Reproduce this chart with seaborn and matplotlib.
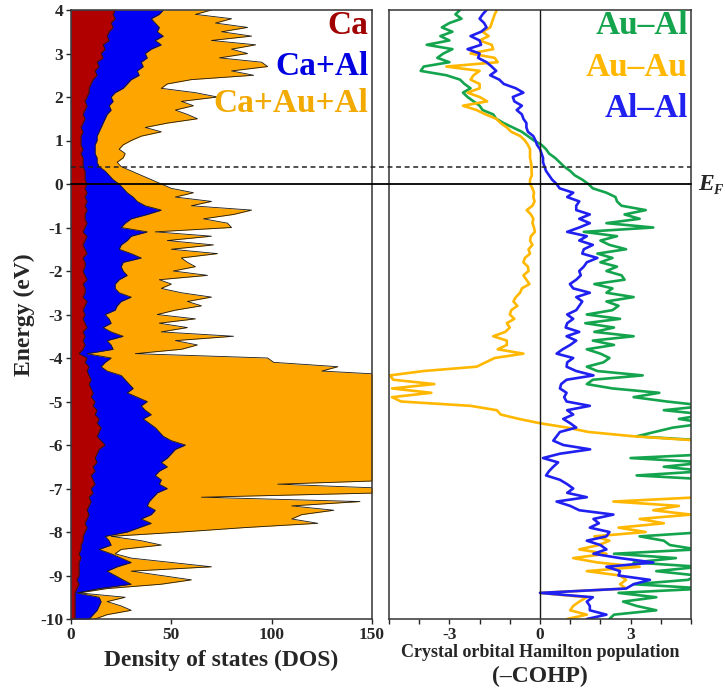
import numpy as np
import pandas as pd
import matplotlib
matplotlib.use("Agg")
import matplotlib.pyplot as plt
import matplotlib.transforms as mtransforms
from matplotlib.lines import Line2D
import seaborn as sns

# energy grid (eV), top to bottom
energy = np.round(np.arange(40, -101, -1) / 10, 1)

# projected DOS (cumulative: Ca, Ca+Al, Ca+Au+Al)
dos_ca = [22, 21, 22, 20, 21, 19, 18, 19, 16, 17,
          15, 16, 13, 14, 12, 13, 11, 10, 9, 9,
          8, 7, 8, 7, 6, 7, 6, 5, 6, 5,
          5, 5, 6, 5, 6, 6, 6, 7, 7, 7,
          8, 7, 8, 7, 8, 7, 8, 7, 7, 8,
          7, 6, 8, 7, 6, 7, 8, 6, 7, 7,
          6, 7, 8, 6, 7, 7, 6, 8, 7, 6,
          7, 6, 7, 8, 6, 7, 6, 7, 6, 4,
          8, 7, 9, 8, 9, 10, 9, 10, 11, 10,
          12, 11, 13, 12, 14, 13, 15, 14, 13, 15,
          17, 14, 13, 12, 13, 11, 12, 10, 11, 12,
          10, 11, 9, 10, 9, 8, 9, 8, 7, 8,
          7, 6, 6, 5, 5, 4, 5, 4, 4, 4,
          4, 3, 4, 3, 2, 2, 2, 2, 2, 2,
          2]
dos_ca_al = [46, 44, 40, 42, 44, 43, 46, 42, 45, 40,
             37, 38, 35, 36, 33, 34, 30, 28, 26, 22,
             20, 21, 19, 20, 18, 17, 16, 15, 14, 13,
             13, 12, 12, 12, 13, 13, 14, 17, 19, 21,
             24, 26, 28, 31, 33, 37, 45, 38, 30, 27,
             25, 38, 30, 28, 25, 24, 30, 35, 26, 25,
             26, 28, 24, 22, 22, 24, 30, 25, 23, 22,
             17, 19, 20, 16, 20, 26, 18, 20, 21, 8,
             20, 17, 15, 18, 25, 27, 29, 31, 28, 33,
             38, 35, 37, 40, 36, 39, 42, 44, 46, 50,
             57, 52, 50, 48, 45, 48, 44, 42, 45, 44,
             48, 43, 41, 39, 38, 42, 40, 35, 40, 34,
             28, 17, 19, 20, 14, 20, 25, 30, 23, 18,
             22, 26, 30, 14, 3, 14, 15, 14, 13, 11,
             9]
dos_total = [70, 62, 80, 72, 88, 75, 90, 70, 92, 80,
             88, 74, 95, 98, 80, 91, 60, 48, 45, 62,
             73, 55, 61, 52, 58, 63, 48, 37, 45, 35,
             30, 26, 24, 27, 26, 23, 25, 30, 35, 40,
             45, 50, 61, 52, 70, 60, 90, 81, 66, 78,
             80, 42, 70, 48, 71, 50, 73, 55, 58, 62,
             51, 68, 44, 50, 45, 55, 70, 58, 65, 52,
             43, 62, 44, 58, 45, 81, 52, 63, 55, 32,
             98, 101, 133, 125, 165, 172, 168, 180, 175, 185,
             190, 182, 195, 188, 200, 192, 185, 198, 190, 187,
             195, 188, 180, 176, 185, 178, 170, 175, 168, 103,
             160, 155, 65, 144, 110, 131, 115, 110, 123, 86,
             55, 20, 35, 45, 25, 22, 30, 50, 70, 30,
             45, 60, 45, 18, 4, 27, 18, 25, 30, 18,
             12]

# -COHP per bond type
cohp_au_al = [-2.65, -2.8, -2.6, -3.0, -3.25, -2.9, -3.3, -3.0, -3.75, -2.9,
              -3.2, -3.4, -3.0, -3.85, -3.95, -3.1, -2.65, -2.5, -2.3, -2.55,
              -2.4, -2.2, -2.0, -1.9, -1.55, -1.45, -1.2, -0.9, -0.6, -0.4,
              -0.2, 0.05, 0.2, 0.3, 0.5, 0.65, 0.8, 1.0, 1.15, 1.4,
              1.6, 1.75, 2.2, 2.5, 2.55, 2.7, 3.5, 2.8, 3.3, 2.2,
              3.75, 1.45, 2.55, 2.0, 2.3, 2.85, 1.9, 2.4, 2.0, 2.55,
              2.2, 2.7, 2.8, 1.8, 2.4, 2.2, 3.1, 2.2, 2.6, 2.4,
              1.55, 2.65, 1.5, 2.45, 1.8, 3.1, 1.75, 2.45, 1.55, 2.0,
              2.3, 2.1, 1.55, 1.9, 3.4, 1.75, 1.55, 2.4, 3.95, 3.1,
              4.2, 5.5, 4.1, 5.5, 4.6, 5.5, 4.4, 3.8, 3.2, 5.5,
              6.0, 5.5, 6.0, 3.0, 5.5, 4.1, 5.5, 3.2, 5.8, 6.0,
              6.2, 5.8, 6.0, 6.3, 5.9, 6.1, 6.0, 5.8, 6.2, 5.9,
              5.5, 3.3, 4.1, 4.3, 5.2, 2.45, 4.5, 3.1, 5.3, 3.85,
              5.2, 4.9, 3.1, 5.5, 2.6, 3.85, 2.75, 3.2, 3.85, 2.45,
              2.3]
cohp_au_au = [-1.43, -1.5, -1.55, -1.6, -1.65, -1.9, -1.7, -2.0, -1.6, -1.55,
              -2.3, -1.5, -1.4, -3.1, -2.0, -2.2, -2.3, -2.0, -2.0, -2.4,
              -2.0, -1.75, -2.55, -2.1, -1.8, -1.45, -1.3, -1.1, -0.95, -0.65,
              -0.5, -0.4, -0.33, -0.33, -0.33, -0.3, -0.28, -0.28, -0.27, -0.33,
              -0.33, -0.25, -0.2, -0.22, -0.18, -0.25, -0.44, -0.3, -0.22, -0.25,
              -0.2, -0.17, -0.3, -0.33, -0.25, -0.38, -0.33, -0.5, -0.55, -0.4,
              -0.38, -0.55, -0.45, -0.35, -0.6, -0.66, -0.8, -0.88, -0.75, -0.95,
              -1.0, -0.85, -1.1, -1.0, -1.15, -1.55, -1.1, -1.1, -1.4, -0.55,
              -1.5, -1.8, -2.1, -3.86, -4.97, -4.86, -3.5, -4.9, -3.6, -4.9,
              -4.6, -2.3, -1.43, -1.3, -0.7, 0.0, 0.9, 1.6, 3.1, 5.3,
              6.5, 6.8, 7.0, 6.6, 6.9, 7.2, 6.7, 6.5, 6.8, 6.4,
              6.2, 6.0, 5.3, 2.43, 4.6, 3.75, 5.0, 3.3, 4.1, 2.6,
              3.5, 1.8, 2.3, 1.95, 1.3, 2.2, 1.1, 1.9, 3.3, 1.55,
              2.65, 2.85, 2.65, 2.85, 0.0, 1.55, 1.3, 1.1, 1.0, 1.55,
              0.9]
cohp_al_al = [-1.77, -1.9, -2.0, -1.85, -1.77, -1.95, -2.3, -2.0, -1.95, -2.4,
              -2.0, -2.05, -1.77, -1.6, -1.45, -1.65, -1.35, -1.2, -0.8, -0.55,
              -0.9, -0.85, -0.6, -0.77, -0.6, -0.55, -0.45, -0.45, -0.4, -0.22,
              -0.15, -0.1, 0.0, 0.05, 0.1, 0.1, 0.15, 0.2, 0.3, 0.4,
              0.55, 0.65, 1.1, 0.9, 1.3, 1.2, 1.2, 1.65, 1.3, 1.65,
              1.3, 0.9, 1.55, 1.3, 1.75, 1.45, 1.4, 1.9, 1.55, 1.45,
              1.3, 1.35, 1.2, 0.99, 1.1, 1.65, 1.2, 1.4, 1.3, 1.2,
              0.9, 1.1, 0.9, 0.85, 1.3, 0.88, 1.2, 1.0, 0.75, 0.55,
              1.1, 0.9, 0.88, 1.2, 1.77, 0.88, 0.7, 0.66, 0.88, 0.8,
              0.88, 1.65, 0.9, 1.1, 0.77, 1.0, 1.2, 0.66, 0.55, 0.44,
              0.77, 1.66, 0.66, 0.1, 0.6, 0.44, 0.3, 0.2, 0.66, 0.9,
              1.1, 0.9, 1.55, 0.55, 1.0, 1.3, 2.43, 1.77, 1.95, 1.65,
              2.3, 2.2, 1.55, 2.0, 2.2, 1.77, 2.65, 3.75, 2.2, 2.65,
              2.6, 3.64, 3.1, 2.85, 0.0, 1.75, 1.55, 1.65, 1.65, 2.2,
              1.55]

fermi_shift = 0.4

dos_labels = ["Ca", "Ca+Al", "Ca+Au+Al"]
dos_colors = ["#b00000", "#0000f5", "#ffa500"]
dos_text_colors = ["#a00000", "#0000e0", "#f2a900"]
bond_labels = ["Au\u2013Al", "Au\u2013Au", "Al\u2013Al"]
bond_colors = ["#14a44d", "#ffb700", "#2020f0"]

sns.set_style("ticks")
plt.rcParams["font.family"] = ["Liberation Serif", "DejaVu Serif"]
plt.rcParams["font.weight"] = "bold"
plt.rcParams["axes.unicode_minus"] = False
plt.rcParams["axes.edgecolor"] = "#333333"
plt.rcParams["axes.linewidth"] = 1.1

fig = plt.figure(figsize=(7.25, 6.89), dpi=100)
ax1 = fig.add_axes([71 / 725, 70 / 689, 301 / 725, 609 / 689])
ax2 = fig.add_axes([389 / 725, 70 / 689, 302 / 725, 609 / 689])

# DOS panel: stacked fills
for vals, col in zip([dos_total, dos_ca_al, dos_ca], dos_colors[::-1]):
    ax1.fill_betweenx(energy, 0, vals, color=col, lw=0)
    sns.lineplot(x=vals, y=energy, sort=False, estimator=None, color="#1a1a1a",
                 lw=0.6, ax=ax1)

ax1.set_xlim(0, 150)
ax1.set_ylim(-10, 4)
ax1.set_xticks([0, 50, 100, 150])
ax1.set_yticks(range(-10, 5))
ax1.tick_params(direction="out", length=3.6, width=1, labelsize=12.5, pad=2)
ax1.set_xlabel("Density of states (DOS)", fontsize=17, fontweight="bold", labelpad=5)
ax1.set_ylabel("Energy (eV)", fontsize=17, fontweight="bold", labelpad=4)

for lab, col, yy in zip(dos_labels, dos_text_colors, [0.975, 0.908, 0.846]):
    ax1.text(0.988, yy, lab, transform=ax1.transAxes, ha="right", va="center",
             fontsize=24, fontweight="bold", color=col)

# COHP panel
cohp = pd.DataFrame({
    "energy": np.concatenate([energy] * 3),
    "cohp": np.concatenate([cohp_au_al, cohp_au_au, cohp_al_al]),
    "bond": np.repeat(bond_labels, len(energy)),
})
sns.lineplot(data=cohp, x="cohp", y="energy", hue="bond", hue_order=bond_labels,
             palette=bond_colors, sort=False, estimator=None, lw=1.9,
             legend=False, ax=ax2)
ax2.axvline(0, color="#1a1a1a", lw=1.0)
ax2.set_xlim(-5, 5)
ax2.set_ylim(-10, 4)
ax2.set_xticks([-3, 0, 3])
ax2.set_xticks(range(-5, 6), minor=True)
ax2.tick_params(axis="x", which="both", direction="out", length=3.6, width=1,
                labelsize=12.5, pad=2)
ax2.tick_params(axis="y", left=False, labelleft=False)
ax2.set_xlabel("Crystal orbital Hamilton population", fontsize=13,
               fontweight="bold", labelpad=1)
ax2.set_ylabel("")
ax2.text(0.5, -0.094, "(\u2013COHP)", transform=ax2.transAxes, ha="center",
         va="center", fontsize=17, fontweight="bold")

for lab, col, yy in zip(bond_labels, bond_colors, [0.975, 0.905, 0.839]):
    ax2.text(0.99, yy, lab, transform=ax2.transAxes, ha="right", va="center",
             fontsize=24, fontweight="bold", color=col)

# Fermi level and shifted level across both panels
trans = mtransforms.blended_transform_factory(fig.transFigure, ax1.transData)
fig.add_artist(Line2D([71 / 725, 691 / 725], [0, 0], transform=trans,
                      color="black", lw=1.3))
fig.add_artist(Line2D([71 / 725, 691 / 725], [fermi_shift, fermi_shift],
                      transform=trans, color="#222222", lw=1.1,
                      dashes=(3.2, 2.4)))
fig.text(698 / 725, 0.0, "E", transform=trans, ha="left", va="center",
         fontsize=17, fontweight="bold", style="italic")
fig.text(713 / 725, -0.16, "F", transform=trans, ha="left", va="center",
         fontsize=10, fontweight="bold", style="italic")

fig.savefig("out.png", dpi=100)
